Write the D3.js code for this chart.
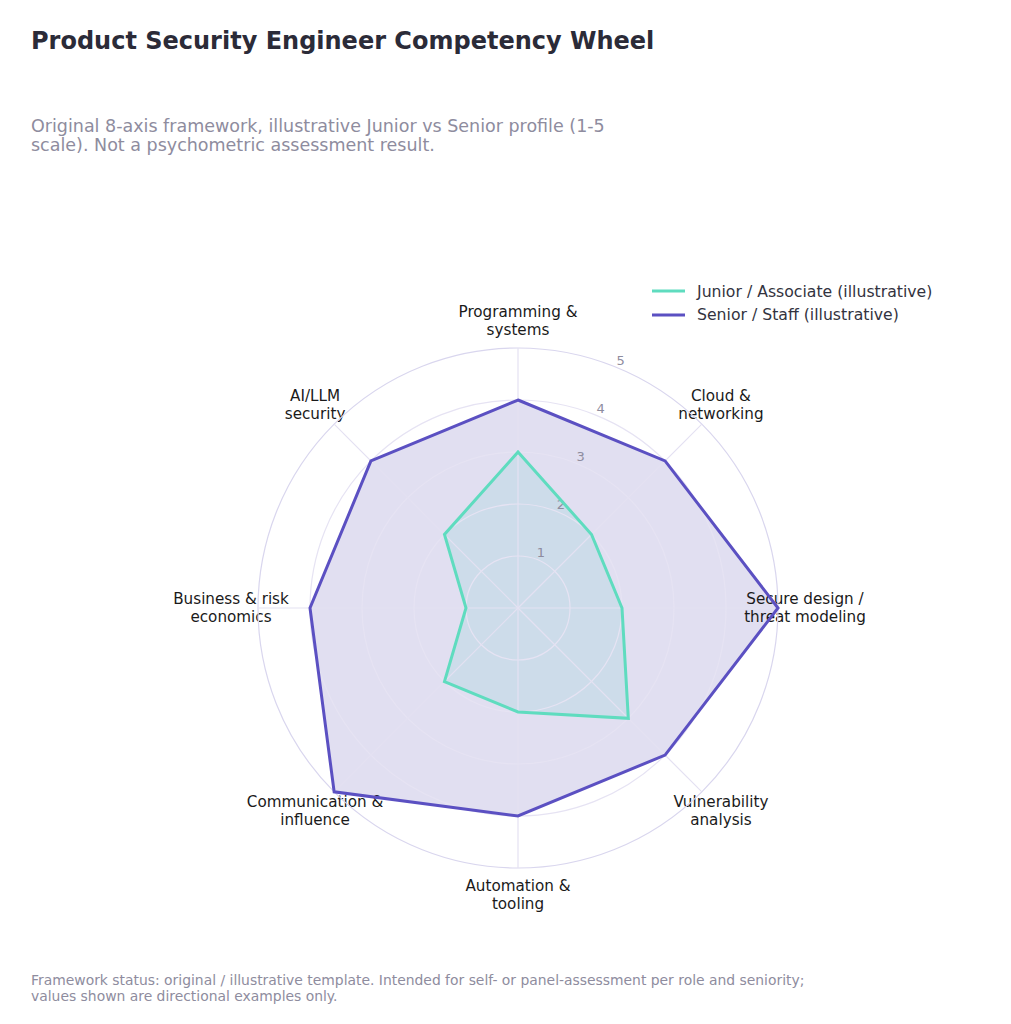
<!DOCTYPE html>
<html>
<head>
<meta charset="utf-8">
<script src="https://cdn.jsdelivr.net/npm/d3@7"></script>
<style>
  body { margin: 0; background: #fff; }
  svg { font-family: "DejaVu Sans", sans-serif; }
</style>
</head>
<body>
<svg id="chart" width="1011" height="1024"></svg>
<script>
// axes, clockwise from the top
const axes = [
  ["Programming &", "systems"],
  ["Cloud &", "networking"],
  ["Secure design /", "threat modeling"],
  ["Vulnerability", "analysis"],
  ["Automation &", "tooling"],
  ["Communication &", "influence"],
  ["Business & risk", "economics"],
  ["AI/LLM", "security"]
];
const juniorValues = [3, 2, 2, 3, 2, 2, 1, 2];
const seniorValues = [4, 4, 5, 4, 4, 5, 4, 4];
const seriesNames = ["Junior / Associate (illustrative)", "Senior / Staff (illustrative)"];
const ringTicks = [1, 2, 3, 4, 5];

const svg = d3.select('#chart');
const cx = 518, cy = 608;

const r = d3.scaleLinear().domain([0, 5]).range([0, 260]);
const angle = d3.scaleLinear().domain([0, axes.length]).range([0, 2 * Math.PI]);

// titles
svg.append('text')
    .attr('x', 31).attr('y', 49)
    .attr('font-size', 24).attr('font-weight', 'bold')
    .attr('fill', '#2b2b38')
    .text('Product Security Engineer Competency Wheel');

const sub = svg.append('text')
    .attr('x', 31).attr('y', 132)
    .attr('font-size', 17.5).attr('fill', '#8e8c9e');
sub.append('tspan').attr('x', 31).text('Original 8-axis framework, illustrative Junior vs Senior profile (1-5');
sub.append('tspan').attr('x', 31).attr('dy', 19).text('scale). Not a psychometric assessment result.');

const foot = svg.append('text')
    .attr('x', 31).attr('y', 985)
    .attr('font-size', 13.9).attr('fill', '#8e8c9e');
foot.append('tspan').attr('x', 31).text('Framework status: original / illustrative template. Intended for self- or panel-assessment per role and seniority;');
foot.append('tspan').attr('x', 31).attr('dy', 15.5).text('values shown are directional examples only.');

const g = svg.append('g').attr('transform', `translate(${cx},${cy})`);

const radial = d3.lineRadial()
    .angle((d, i) => angle(i))
    .radius(d => r(d))
    .curve(d3.curveLinearClosed);

// fills
g.append('path').datum(seniorValues)
    .attr('d', radial)
    .attr('fill', '#e1dff1');
g.append('path').datum(juniorValues)
    .attr('d', radial)
    .attr('fill', '#cddcea');

// axis labels (grid and outlines go over them)
const lab = g.append('g').selectAll('text')
    .data(axes)
    .enter().append('text')
    .attr('text-anchor', 'middle')
    .attr('font-size', 15.2)
    .attr('fill', '#1a1a1a')
    .attr('transform', (d, i) => {
      const a = angle(i);
      return `translate(${Math.sin(a) * 287},${-Math.cos(a) * 287})`;
    });
lab.append('tspan').attr('x', 0).attr('y', -4).text(d => d[0]);
lab.append('tspan').attr('x', 0).attr('y', 14).text(d => d[1]);

// grid
g.append('g').selectAll('circle')
    .data(ringTicks)
    .enter().append('circle')
    .attr('r', d => r(d))
    .attr('fill', 'none')
    .attr('stroke', d => d === 5 ? '#d9d6ee' : '#e6e3f3')
    .attr('stroke-width', 1.2);

g.append('g').selectAll('line')
    .data(axes)
    .enter().append('line')
    .attr('x2', (d, i) => Math.sin(angle(i)) * r(5))
    .attr('y2', (d, i) => -Math.cos(angle(i)) * r(5))
    .attr('stroke', '#e4e1f2')
    .attr('stroke-width', 1.2);

// ring value labels
const tickAngle = Math.PI / 8;
g.append('g').selectAll('text')
    .data(ringTicks)
    .enter().append('text')
    .attr('x', d => Math.sin(tickAngle) * (r(d) + 8))
    .attr('y', d => -Math.cos(tickAngle) * (r(d) + 8))
    .attr('dy', '0.35em')
    .attr('text-anchor', 'middle')
    .attr('font-size', 13)
    .attr('fill', '#8e8c9e')
    .text(d => d);

// outlines
const colors = ['#5fdcbf', '#5b50c2'];
[juniorValues, seniorValues].forEach((vals, k) => {
  g.append('path').datum(vals)
      .attr('d', radial)
      .attr('fill', 'none')
      .attr('stroke', colors[k])
      .attr('stroke-width', 3)
      .attr('stroke-linejoin', 'miter');
});

// legend
const leg = svg.append('g').attr('transform', 'translate(652,291)');
seriesNames.forEach((name, k) => {
  leg.append('line')
      .attr('x1', 0).attr('x2', 33)
      .attr('y1', k * 24).attr('y2', k * 24)
      .attr('stroke', colors[k]).attr('stroke-width', 3);
  leg.append('text')
      .attr('x', 45).attr('y', k * 24)
      .attr('dy', '0.35em')
      .attr('font-size', 15.7)
      .attr('fill', '#333340')
      .text(name);
});
</script>
</body>
</html>
